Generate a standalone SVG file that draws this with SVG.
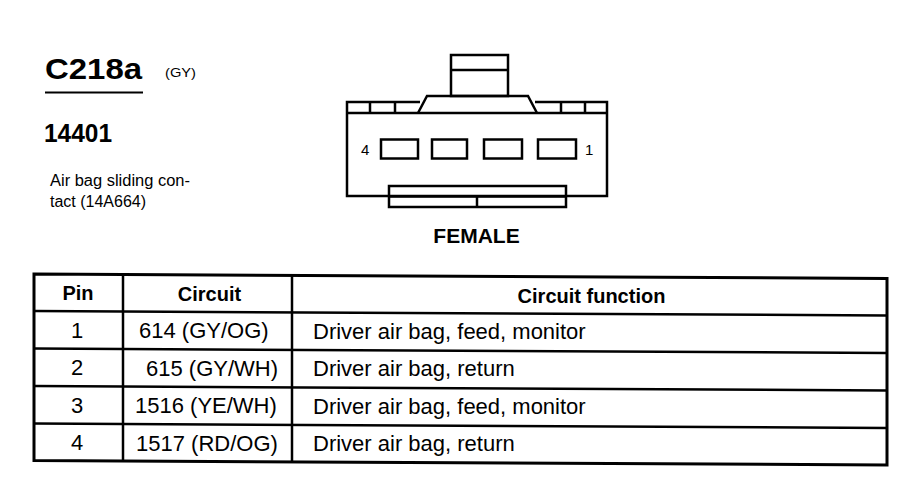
<svg xmlns="http://www.w3.org/2000/svg" width="912" height="480" viewBox="0 0 912 480">
<style>
text{font-family:"Liberation Sans",Arial,sans-serif;fill:#000}
.b{font-weight:bold}
.ln{stroke:#000;fill:none;stroke-width:2.5}
.tb{stroke:#000;fill:none;stroke-width:2.5}
.tbo{stroke:#000;fill:none;stroke-width:3}
.cell{font-size:22px}
.hd{font-size:20px;font-weight:bold}
</style>
<rect width="912" height="480" fill="#fff"/>
<g id="title">
<text class="b" x="45" y="79" font-size="30" textLength="97" lengthAdjust="spacingAndGlyphs">C218a</text>
<line x1="45" y1="92.5" x2="143" y2="92.5" stroke="#000" stroke-width="2"/>
<text x="165" y="77" font-size="13" textLength="31" lengthAdjust="spacingAndGlyphs">(GY)</text>
<text class="b" x="44" y="142" font-size="26" textLength="68" lengthAdjust="spacingAndGlyphs">14401</text>
<text x="50" y="186" font-size="16" textLength="140" lengthAdjust="spacingAndGlyphs">Air bag sliding con-</text>
<text x="50" y="207" font-size="16">tact (14A664)</text>
</g>
<g id="connector-face">
<rect class="ln" x="451" y="55" width="57" height="41"/>
<line class="ln" x1="451" y1="70" x2="508" y2="70"/>
<path class="ln" d="M418,113 L427,96 L528,96 L537,113"/>
<path class="ln" d="M420,102 L347,102 L347,196 L607,196 L607,102 L535,102"/>
<line class="ln" x1="347" y1="113" x2="607" y2="113"/>
<line class="ln" x1="370" y1="102" x2="370" y2="113"/>
<line class="ln" x1="395" y1="102" x2="395" y2="113"/>
<line class="ln" x1="561" y1="102" x2="561" y2="113"/>
<line class="ln" x1="585" y1="102" x2="585" y2="113"/>
<rect class="ln" x="381" y="139.5" width="37" height="19"/>
<rect class="ln" x="432" y="139.5" width="35" height="19"/>
<rect class="ln" x="484" y="139.5" width="38" height="19"/>
<rect class="ln" x="538" y="139.5" width="38" height="19"/>
<text x="361" y="155" font-size="15">4</text>
<text x="585" y="155" font-size="15">1</text>
<rect class="ln" x="389" y="186" width="177" height="21" fill="#fff"/>
<line class="ln" x1="389" y1="196.5" x2="566" y2="196.5"/>
<line class="ln" x1="477" y1="196.5" x2="477" y2="207"/>
<text class="b" x="476.5" y="243" font-size="21" text-anchor="middle">FEMALE</text>
</g>
<g id="connectors"></g>
<g id="pin-table">
<path class="tbo" d="M34,274 L887,278.5 L887,465 L34,460.5 Z"/>
<line class="tb" x1="34" y1="311" x2="887" y2="315.5"/>
<line class="tb" x1="34" y1="348.5" x2="887" y2="353"/>
<line class="tb" x1="34" y1="386" x2="887" y2="390.5"/>
<line class="tb" x1="34" y1="423.5" x2="887" y2="428"/>
<line class="tb" x1="123" y1="274.5" x2="123" y2="461"/>
<line class="tb" x1="292" y1="275.5" x2="292" y2="462"/>
<text class="hd" x="78" y="300" text-anchor="middle">Pin</text>
<text class="hd" x="209.5" y="301" text-anchor="middle" font-size="21">Circuit</text>
<text class="hd" x="591.5" y="303" text-anchor="middle" font-size="21.5">Circuit function</text>
<text class="cell" x="77" y="337.5" text-anchor="middle">1</text>
<text class="cell" x="77" y="375" text-anchor="middle">2</text>
<text class="cell" x="77" y="412.5" text-anchor="middle">3</text>
<text class="cell" x="77" y="450" text-anchor="middle">4</text>
<text class="cell" x="139" y="338">614 (GY/OG)</text>
<text class="cell" x="146" y="375.5">615 (GY/WH)</text>
<text class="cell" x="135" y="413">1516 (YE/WH)</text>
<text class="cell" x="136" y="450.5">1517 (RD/OG)</text>
<text class="cell" x="313" y="338.5">Driver air bag, feed, monitor</text>
<text class="cell" x="313" y="376">Driver air bag, return</text>
<text class="cell" x="313" y="413.5">Driver air bag, feed, monitor</text>
<text class="cell" x="313" y="451">Driver air bag, return</text>
</g>
</svg>
